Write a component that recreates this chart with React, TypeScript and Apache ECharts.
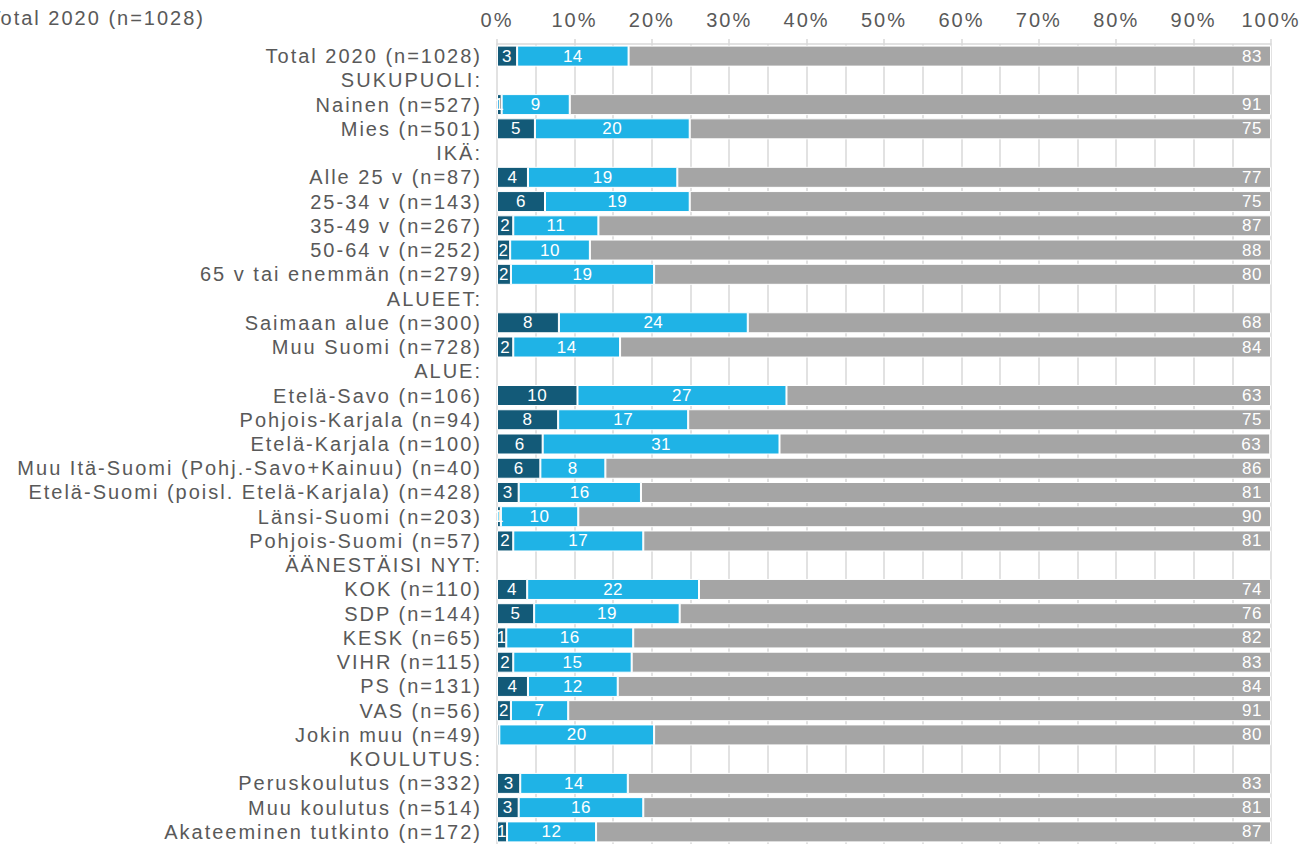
import React, { useEffect, useRef } from "react";
import * as echarts from "echarts";

const categories = [
  "Total 2020 (n=1028)",
  "SUKUPUOLI:",
  "Nainen (n=527)",
  "Mies (n=501)",
  "IKÄ:",
  "Alle 25 v (n=87)",
  "25-34 v (n=143)",
  "35-49 v (n=267)",
  "50-64 v (n=252)",
  "65 v tai enemmän (n=279)",
  "ALUEET:",
  "Saimaan alue (n=300)",
  "Muu Suomi (n=728)",
  "ALUE:",
  "Etelä-Savo (n=106)",
  "Pohjois-Karjala (n=94)",
  "Etelä-Karjala (n=100)",
  "Muu Itä-Suomi (Pohj.-Savo+Kainuu) (n=40)",
  "Etelä-Suomi (poisl. Etelä-Karjala) (n=428)",
  "Länsi-Suomi (n=203)",
  "Pohjois-Suomi (n=57)",
  "ÄÄNESTÄISI NYT:",
  "KOK (n=110)",
  "SDP (n=144)",
  "KESK (n=65)",
  "VIHR (n=115)",
  "PS (n=131)",
  "VAS (n=56)",
  "Jokin muu (n=49)",
  "KOULUTUS:",
  "Peruskoulutus (n=332)",
  "Muu koulutus (n=514)",
  "Akateeminen tutkinto (n=172)",
];

const darkValues = [
  2.6, null, 0.6, 4.9, null, 4.0, 6.2, 2.1, 1.7, 1.8, null, 8.0, 2.1, null,
  10.4, 7.9, 5.9, 5.6, 2.8, 0.5, 2.1, null, 3.9, 4.8, 1.2, 2.1, 4.0, 1.8, 0.3,
  null, 3.0, 2.8, 1.3,
];

const lightValues = [
  14.4, null, 8.8, 20.0, null, 19.3, 18.7, 11.0, 10.3, 18.5, null, 24.4, 13.8,
  null, 27.0, 16.8, 30.6, 8.4, 15.8, 10.0, 16.8, null, 22.2, 18.8, 16.4, 15.3,
  11.6, 7.4, 20.0, null, 13.9, 16.1, 11.5,
];

const grayValues = [
  83.0, null, 90.6, 75.1, null, 76.7, 75.1, 86.9, 88.0, 79.7, null, 67.6, 84.1,
  null, 62.6, 75.3, 63.4, 86.0, 81.4, 89.5, 81.1, null, 73.9, 76.4, 82.4, 82.6,
  84.4, 90.8, 79.7, null, 83.1, 81.1, 87.2,
];

const FONT = "Liberation Sans, Arial, sans-serif";

const labelFmt = (p: any) => {
  const v = p.value;
  if (v == null) return "";
  const r = Math.round(v);
  return r === 0 ? "" : String(r);
};

export default function App() {
  const ref = useRef<HTMLDivElement>(null);
  useEffect(() => {
    if (!ref.current) return;
    const chart = echarts.init(ref.current, undefined, { renderer: "svg" });
    const barCommon = {
      type: "bar" as const,
      stack: "total",
      barWidth: 21,
      itemStyle: { borderColor: "#ffffff", borderWidth: 1 },
    };
    const valueLabel = {
      show: true,
      position: "inside",
      color: "#ffffff",
      fontSize: 17,
      fontFamily: FONT,
      formatter: labelFmt,
    };
    chart.setOption({
      animation: false,
      textStyle: { fontFamily: FONT },
      grid: { left: 497, right: 35, top: 44, bottom: 2, containLabel: false },
      graphic: [
        {
          type: "text",
          x: 205,
          y: 18,
          style: {
            text: "Total 2020 (n=1028)",
            fontSize: 20,
            fontFamily: FONT,
            fill: "#595959",
            align: "right",
            verticalAlign: "middle",
          },
        },
      ],
      xAxis: {
        type: "value",
        position: "top",
        min: 0,
        max: 100,
        interval: 10,
        axisLabel: {
          formatter: "{value}%",
          fontSize: 20,
          color: "#595959",
          fontFamily: FONT,
          margin: 14,
        },
        axisLine: { show: true, lineStyle: { color: "#d9d9d9", width: 1.5 } },
        axisTick: { show: true, length: 5, lineStyle: { color: "#d9d9d9", width: 1.5 } },
        splitLine: { show: true, lineStyle: { color: "#d9d9d9", width: 1.5 } },
        minorTick: { show: false, splitNumber: 2 },
        minorSplitLine: { show: true, lineStyle: { color: "#d9d9d9", width: 1.5 } },
      },
      yAxis: {
        type: "category",
        inverse: true,
        data: categories,
        axisLine: { show: false },
        axisTick: { show: false },
        axisLabel: {
          interval: 0,
          fontSize: 20,
          color: "#595959",
          fontFamily: FONT,
          margin: 15,
        },
      },
      series: [
        {
          ...barCommon,
          name: "dark",
          data: darkValues,
          itemStyle: { ...barCommon.itemStyle, color: "#135a78" },
          label: valueLabel,
        },
        {
          ...barCommon,
          name: "light",
          data: lightValues,
          itemStyle: { ...barCommon.itemStyle, color: "#1fb3e6" },
          label: valueLabel,
        },
        {
          ...barCommon,
          name: "gray",
          data: grayValues,
          itemStyle: { ...barCommon.itemStyle, color: "#a5a5a5" },
          label: { ...valueLabel, position: "insideRight", distance: 9 },
        },
      ],
    });
    return () => chart.dispose();
  }, []);
  return (
    <>
      <style>{`
        .chart-root text { letter-spacing: 2px; }
        .chart-root text[fill="#ffffff"], .chart-root text[fill="#fff"], .chart-root text[fill="rgb(255,255,255)"] { letter-spacing: 0.5px; }
      `}</style>
      <div
        ref={ref}
        className="chart-root"
        style={{ position: "absolute", left: 0, top: 0, width: 1306, height: 846 }}
      />
    </>
  );
}
